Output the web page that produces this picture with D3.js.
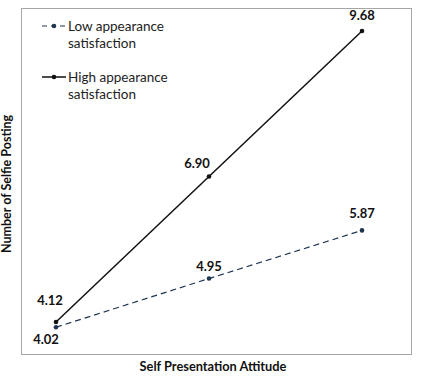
<!DOCTYPE html>
<html>
<head>
<meta charset="utf-8">
<script src="https://cdn.jsdelivr.net/npm/d3@7"></script>
<style>
  body { margin: 0; background: #fff; }
  text { font-family: Lato, "Open Sans", sans-serif; }
</style>
</head>
<body>
<div id="wrapper"></div>
<script>
// data
const levels = ["Low", "Medium", "High"]
const lowSatisfaction = [4.02, 4.95, 5.87]
const highSatisfaction = [4.12, 6.90, 9.68]
const seriesNames = ["Low appearance satisfaction", "High appearance satisfaction"]

const width = 421
const height = 376

const svg = d3.select("#wrapper").append("svg")
  .attr("width", width)
  .attr("height", height)

// frame
svg.append("rect")
  .attr("x", 21.5).attr("y", 8.5)
  .attr("width", 390).attr("height", 346)
  .attr("fill", "none")
  .attr("stroke", "#a6a6a6")
  .attr("stroke-width", 1)

// scales
const xScale = d3.scalePoint()
  .domain(levels)
  .range([56, 362])

const yScale = d3.scaleLinear()
  .domain([4.12, 9.68])
  .range([322, 31])

const lineGenerator = d3.line()
  .x((d, i) => xScale(levels[i]))
  .y(d => yScale(d))

// low series (dashed)
svg.append("path")
  .attr("d", lineGenerator(lowSatisfaction))
  .attr("fill", "none")
  .attr("stroke", "#1f3550")
  .attr("stroke-width", 1.2)
  .attr("stroke-dasharray", "6,4")

// high series (solid)
svg.append("path")
  .attr("d", lineGenerator(highSatisfaction))
  .attr("fill", "none")
  .attr("stroke", "#111")
  .attr("stroke-width", 1.5)

lowSatisfaction.forEach((d, i) => {
  svg.append("circle")
    .attr("cx", xScale(levels[i]))
    .attr("cy", yScale(d))
    .attr("r", 2.3)
    .attr("fill", "#1f3550")
})
highSatisfaction.forEach((d, i) => {
  svg.append("circle")
    .attr("cx", xScale(levels[i]))
    .attr("cy", yScale(d))
    .attr("r", 2.3)
    .attr("fill", "#111")
})

// value labels
const fmt = d3.format(".2f")
const lowOffsets = [[-10, 17], [0, -8], [0, -12]]
const highOffsets = [[-6, -17], [-12, -9], [0, -11]]
lowSatisfaction.forEach((d, i) => {
  svg.append("text")
    .attr("x", xScale(levels[i]) + lowOffsets[i][0])
    .attr("y", yScale(d) + lowOffsets[i][1])
    .attr("text-anchor", "middle")
    .style("font-size", "13px")
    .style("font-weight", "bold")
    .attr("fill", "#111")
    .text(fmt(d))
})
highSatisfaction.forEach((d, i) => {
  svg.append("text")
    .attr("x", xScale(levels[i]) + highOffsets[i][0])
    .attr("y", yScale(d) + highOffsets[i][1])
    .attr("text-anchor", "middle")
    .style("font-size", "13px")
    .style("font-weight", "bold")
    .attr("fill", "#111")
    .text(fmt(d))
})

// legend
const legend = svg.append("g")
const legendY = [26, 77]
legend.append("line")
  .attr("x1", 42).attr("x2", 66)
  .attr("y1", legendY[0]).attr("y2", legendY[0])
  .attr("stroke", "#1f3550")
  .attr("stroke-width", 1.2)
  .attr("stroke-dasharray", "5,4")
legend.append("circle")
  .attr("cx", 54).attr("cy", legendY[0]).attr("r", 2.3)
  .attr("fill", "#1f3550")
legend.append("line")
  .attr("x1", 42).attr("x2", 66)
  .attr("y1", legendY[1]).attr("y2", legendY[1])
  .attr("stroke", "#111")
  .attr("stroke-width", 1.5)
legend.append("circle")
  .attr("cx", 54).attr("cy", legendY[1]).attr("r", 2.3)
  .attr("fill", "#111")

seriesNames.forEach((name, i) => {
  const words = name.split(" ")
  const t = legend.append("text")
    .attr("x", 68)
    .attr("y", legendY[i] + 4.5)
    .style("font-size", "13.5px")
    .attr("fill", "#222")
  t.append("tspan").attr("x", 68).text(words.slice(0, 2).join(" "))
  t.append("tspan").attr("x", 68).attr("dy", 17).text(words.slice(2).join(" "))
})

// axis titles
svg.append("text")
  .attr("x", 213)
  .attr("y", 371)
  .attr("text-anchor", "middle")
  .style("font-size", "12.8px")
  .style("font-weight", "bold")
  .attr("fill", "#111")
  .text("Self Presentation Attitude")

svg.append("text")
  .attr("transform", "translate(11, 184) rotate(-90)")
  .attr("text-anchor", "middle")
  .style("font-size", "12.5px")
  .style("font-weight", "bold")
  .attr("fill", "#111")
  .text("Number of Selfie Posting")
</script>
</body>
</html>
